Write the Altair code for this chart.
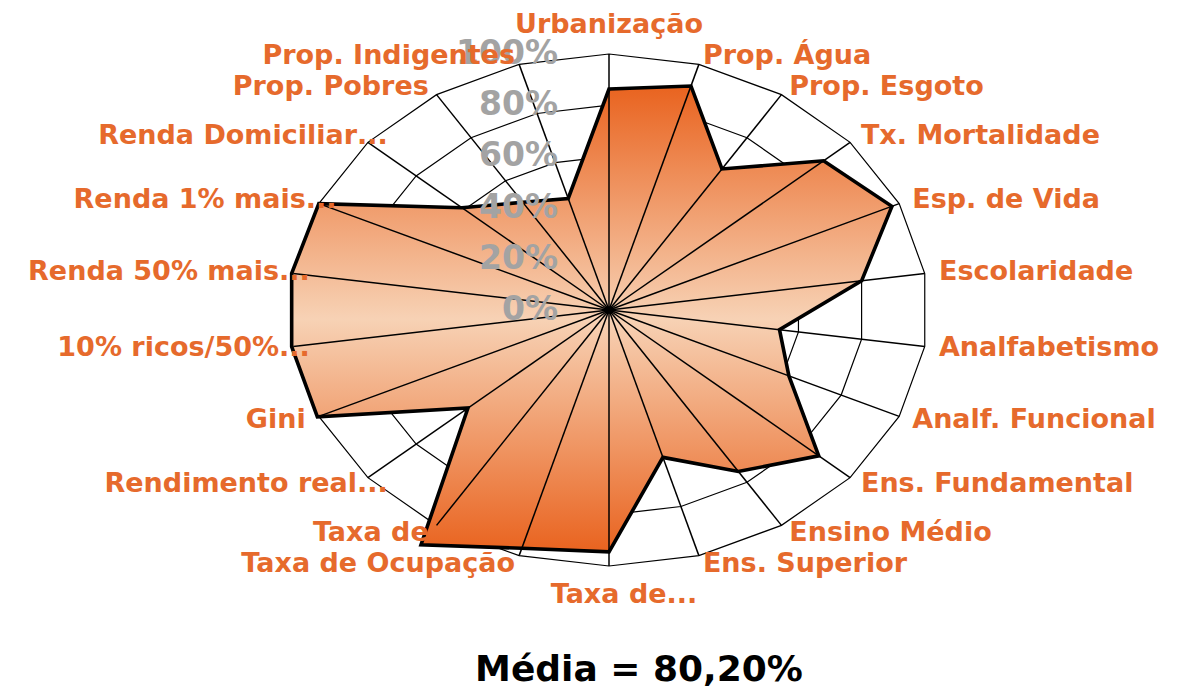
import math

import altair as alt
import pandas as pd

# Indicator names, clockwise from the top
categories = [
    "Urbanização", "Prop. Água", "Prop. Esgoto", "Tx. Mortalidade",
    "Esp. de Vida", "Escolaridade", "Analfabetismo", "Analf. Funcional",
    "Ens. Fundamental", "Ensino Médio", "Ens. Superior", "Taxa de...",
    "Taxa de Ocupação", "Taxa de", "Rendimento real...", "Gini",
    "10% ricos/50%...", "Renda 50% mais...", "Renda 1% mais...",
    "Renda Domiciliar...", "Prop. Pobres", "Prop. Indigentes",
]

# Indicator scores, in percent
values = [
    86.3, 91.2, 65.5, 89.0, 97.5, 80.0, 54.0, 62.0, 87.0, 75.0, 60.0,
    94.5, 97.0, 109.0, 58.5, 100.5, 100.5, 100.5, 100.0, 61.0, 50.0, 45.4,
]

# Radial gridline levels, in percent
ring_levels = [0, 20, 40, 60, 80, 100]

ORANGE = "#E66A2C"
GREY = "#A3A3A3"
FONT = "DejaVu Sans"

n = len(categories)
angles = [2 * math.pi * i / n for i in range(n)]
sines = [math.sin(a) for a in angles]
cosines = [math.cos(a) for a in angles]

# Data polygon
poly = pd.DataFrame({
    "cat": categories,
    "value": values,
    "idx": list(range(n)),
    "x": [v / 100 * s for v, s in zip(values, sines)],
    "y": [v / 100 * c for v, c in zip(values, cosines)],
})

# Gridline polygons
ring_rows = []
for lvl in ring_levels[1:]:
    for i in range(n):
        ring_rows.append({"level": lvl, "idx": i,
                          "x": lvl / 100 * sines[i], "y": lvl / 100 * cosines[i]})
rings = pd.DataFrame(ring_rows)

# Spokes from the centre to the outer ring
spokes = pd.DataFrame({"x0": [0.0] * n, "y0": [0.0] * n, "x1": sines, "y1": cosines})

# Scale labels along the top spoke
pct = pd.DataFrame({"r": [l / 100 for l in ring_levels],
                    "label": [f"{l}%" for l in ring_levels]})

# Category labels placed just outside the outer ring
lab_rows = []
for name, s, c in zip(categories, sines, cosines):
    if s > 0.01:
        side = "right"
    elif s < -0.01:
        side = "left"
    else:
        side = "top" if c > 0 else "bottom"
    main = name[:-3] if name.endswith("...") else name
    dots = "..." if name.endswith("...") else ""
    if side in ("top", "bottom"):
        lx, ly = 0.0, 1.115 * (1 if c > 0 else -1)
    else:
        lx, ly = 1.045 * s, 1.035 * c
    lab_rows.append({"name": name, "main": main, "dots": dots,
                     "side": side, "x": lx, "y": ly})
labels = pd.DataFrame(lab_rows)

mean_val = sum(values) / n
media_text = "Média = " + f"{mean_val:.2f}".replace(".", ",") + "%"

xs = alt.Scale(domain=[-1, 1], nice=False, zero=False)
ys = alt.Scale(domain=[-1, 1], nice=False, zero=False)
X = alt.X("x:Q", scale=xs, axis=None)
Y = alt.Y("y:Q", scale=ys, axis=None)

gradient = alt.LinearGradient(
    gradient="linear",
    stops=[
        alt.GradientStop(color="#E9631F", offset=0),
        alt.GradientStop(color="#F7D2B5", offset=0.5),
        alt.GradientStop(color="#E9631F", offset=1),
    ],
    x1=0, x2=0, y1=0, y2=1,
)

ring_layer = alt.Chart(rings).mark_line(
    interpolate="linear-closed", color="black", strokeWidth=1.2
).encode(x=X, y=Y, detail="level:N", order="idx:Q")

fill_layer = alt.Chart(poly).mark_line(
    interpolate="linear-closed", fill=gradient, strokeWidth=0
).encode(x=X, y=Y, order="idx:Q")

spoke_layer = alt.Chart(spokes).mark_rule(color="black", strokeWidth=1.5).encode(
    x=alt.X("x0:Q", scale=xs, axis=None),
    y=alt.Y("y0:Q", scale=ys, axis=None),
    x2="x1:Q",
    y2="y1:Q",
)

hub_layer = alt.Chart(pd.DataFrame({"x": [0.0], "y": [0.0]})).mark_point(
    filled=True, color="black", size=60, opacity=1
).encode(x=X, y=Y)

outline_layer = alt.Chart(poly).mark_line(
    interpolate="linear-closed", color="black", strokeWidth=3.6, strokeJoin="miter"
).encode(x=X, y=Y, order="idx:Q")

pct_layer = alt.Chart(pct).mark_text(
    align="right", baseline="middle", dx=-51, font=FONT, fontSize=33,
    fontWeight="bold", color=GREY
).encode(x=alt.X(datum=0, scale=xs, axis=None),
         y=alt.Y("r:Q", scale=ys, axis=None), text="label:N")

text_style = dict(baseline="middle", font=FONT, fontSize=27,
                  fontWeight="bold", color=ORANGE)

right_lab = alt.Chart(labels).transform_filter(
    alt.datum.side == "right"
).mark_text(align="left", **text_style).encode(x=X, y=Y, text="main:N")

left_lab = alt.Chart(labels).transform_filter(
    alt.datum.side == "left"
).mark_text(align="right", **text_style).encode(x=X, y=Y, text="main:N")

left_dots = alt.Chart(labels).transform_filter(
    (alt.datum.side == "left") & (alt.datum.dots != "")
).mark_text(align="left", **text_style).encode(x=X, y=Y, text="dots:N")

top_lab = alt.Chart(labels).transform_filter(
    alt.datum.side == "top"
).mark_text(align="center", **text_style).encode(x=X, y=Y, text="name:N")

bottom_lab = alt.Chart(labels).transform_filter(
    alt.datum.side == "bottom"
).mark_text(align="center", dx=15, **text_style).encode(x=X, y=Y, text="name:N")

# Caption with the average score, below the plot
caption = alt.Chart(pd.DataFrame({"t": [media_text]})).mark_text(
    align="center", baseline="middle", font=FONT, fontSize=36,
    fontWeight="bold", color="black"
).encode(x=alt.value(349), y=alt.value(616), text="t:N")

chart = alt.layer(
    ring_layer, fill_layer, spoke_layer, hub_layer, outline_layer,
    pct_layer, right_lab, left_lab, left_dots, top_lab, bottom_lab, caption,
).properties(
    width=638,
    height=512,
    autosize=alt.AutoSizeParams(type="none"),
    padding={"left": 290, "top": 54, "right": 251, "bottom": 124},
).configure_view(strokeWidth=0, stroke=None)

chart.save("out.html", embed_options={"renderer": "svg", "actions": False})
